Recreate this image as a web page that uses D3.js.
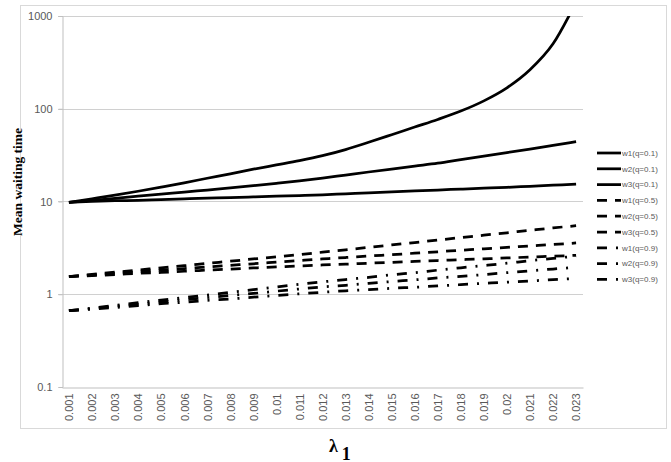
<!DOCTYPE html>
<html>
<head>
<meta charset="utf-8">
<script src="https://cdn.jsdelivr.net/npm/d3@7"></script>
<style>
  body { margin: 0; background: #fff; }
  svg { display: block; }
</style>
</head>
<body>
<script>
/*
*    waiting time chart
*/

var width = 671;
var height = 462;
var margin = {top: 16, right: 88, bottom: 75, left: 62};

// data
var lambdas = ["0.001","0.002","0.003","0.004","0.005","0.006","0.007","0.008","0.009","0.01","0.011","0.012",
    "0.013","0.014","0.015","0.016","0.017","0.018","0.019","0.02","0.021","0.022","0.023"];

var w1q01 = [9.8, 10.7, 11.7, 12.9, 14.3, 15.9, 17.8, 19.9, 22.3, 24.8, 27.6, 31.2, 36.3, 43.5, 52.5, 63.5, 76.7, 94.4, 121.6, 168, 263, 501, 1413];
var w2q01 = [9.8, 10.3, 10.8, 11.4, 12.0, 12.6, 13.3, 14.0, 14.8, 15.7, 16.7, 17.9, 19.3, 20.8, 22.4, 24.1, 25.9, 28.3, 30.9, 33.7, 36.8, 40.3, 44.2];
var w3q01 = [9.8, 10.0, 10.2, 10.3, 10.5, 10.7, 10.9, 11.0, 11.2, 11.4, 11.6, 11.8, 12.1, 12.4, 12.7, 13.0, 13.3, 13.6, 13.9, 14.2, 14.6, 15.0, 15.4];
var w1q05 = [1.55, 1.64, 1.73, 1.82, 1.93, 2.03, 2.15, 2.27, 2.40, 2.53, 2.67, 2.84, 3.01, 3.20, 3.40, 3.61, 3.84, 4.08, 4.33, 4.60, 4.89, 5.19, 5.48];
var w2q05 = [1.55, 1.61, 1.68, 1.75, 1.82, 1.89, 1.97, 2.05, 2.13, 2.22, 2.31, 2.40, 2.49, 2.58, 2.67, 2.77, 2.87, 2.98, 3.09, 3.20, 3.32, 3.44, 3.57];
var w3q05 = [1.55, 1.59, 1.63, 1.68, 1.72, 1.77, 1.82, 1.87, 1.92, 1.97, 2.02, 2.07, 2.11, 2.16, 2.21, 2.26, 2.31, 2.36, 2.41, 2.46, 2.52, 2.57, 2.63];
var w1q09 = [0.665, 0.71, 0.76, 0.81, 0.865, 0.92, 0.98, 1.05, 1.12, 1.20, 1.28, 1.36, 1.44, 1.52, 1.62, 1.71, 1.82, 1.93, 2.04, 2.16, 2.30, 2.43, 2.58];
var w2q09 = [0.665, 0.70, 0.74, 0.78, 0.826, 0.87, 0.92, 0.97, 1.02, 1.08, 1.14, 1.20, 1.25, 1.31, 1.37, 1.43, 1.50, 1.56, 1.63, 1.71, 1.79, 1.87, 1.95];
var w3q09 = [0.665, 0.69, 0.72, 0.755, 0.79, 0.82, 0.86, 0.89, 0.93, 0.97, 1.01, 1.05, 1.09, 1.12, 1.16, 1.19, 1.23, 1.27, 1.31, 1.35, 1.39, 1.44, 1.48];

var seriesNames = ["w1(q=0.1)","w2(q=0.1)","w3(q=0.1)","w1(q=0.5)","w2(q=0.5)","w3(q=0.5)","w1(q=0.9)","w2(q=0.9)","w3(q=0.9)"];
var seriesValues = [w1q01, w2q01, w3q01, w1q05, w2q05, w3q05, w1q09, w2q09, w3q09];
var yTicks = [0.1, 1, 10, 100, 1000];

var dashes = {"0.1": null, "0.5": "10,8", "0.9": "10,9,2,9"};
var series = seriesNames.map((n, i) => ({name: n, values: seriesValues[i], dash: dashes[n.slice(5, 8)]}));

var innerWidth = width - margin.left - margin.right;
var innerHeight = 387 - margin.top;

//Scales
var x = d3.scalePoint()
    .domain(lambdas)
    .range([0, innerWidth])
    .padding(0.3);

var y = d3.scaleLog()
    .domain([0.1, 1000])
    .range([innerHeight, 0]);

//Canvas
var svg = d3.select("body")
    .append("svg")
        .attr("width", width)
        .attr("height", height);

svg.append("rect")
    .attr("x", 20.5)
    .attr("y", 5.5)
    .attr("width", 646)
    .attr("height", 423)
    .attr("fill", "#fff")
    .attr("stroke", "#d9d9d9");

var g = svg.append("g")
    .attr("transform", "translate(" + margin.left + ", " + margin.top + ")");

g.append("clipPath")
    .attr("id", "plot-clip")
  .append("rect")
    .attr("x", 0)
    .attr("y", 0)
    .attr("width", innerWidth)
    .attr("height", innerHeight);

//Grid
g.selectAll(".grid")
    .data(yTicks.slice(1))
    .enter()
    .append("line")
        .attr("class", "grid")
        .attr("x1", -4)
        .attr("x2", innerWidth)
        .attr("y1", d => Math.round(y(d)) + 0.5)
        .attr("y2", d => Math.round(y(d)) + 0.5)
        .attr("stroke", "#d0d0d0");

//Axes
var leftAxis = d3.axisLeft(y)
    .tickValues(yTicks)
    .tickFormat(d => d)
    .tickSize(4)
    .tickPadding(6);
var ya = g.append("g")
    .attr("class", "y-axis")
    .attr("transform", "translate(0.5, 0)")
    .call(leftAxis);
ya.select(".domain").attr("stroke", "#bfbfbf");
ya.selectAll(".tick line").attr("stroke", "#bfbfbf");
ya.selectAll("text")
    .attr("fill", "#595959")
    .style("font", "11px 'Liberation Sans', Arial, sans-serif");

var bottomAxis = d3.axisBottom(x).tickSize(0).tickPadding(0);
var xa = g.append("g")
    .attr("class", "x-axis")
    .attr("transform", "translate(0, " + (innerHeight + 0.5) + ")")
    .call(bottomAxis);
xa.select(".domain").attr("stroke", "#bfbfbf");
xa.selectAll("text")
    .attr("fill", "#595959")
    .style("font", "11px 'Liberation Sans', Arial, sans-serif")
    .attr("transform", "rotate(-90)")
    .attr("text-anchor", "end")
    .attr("x", -6)
    .attr("y", 0)
    .attr("dy", "0.35em");

//Lines
var line = d3.line()
    .x((d, i) => x(lambdas[i]))
    .y(d => y(d))
    .curve(d3.curveMonotoneX);

g.append("g")
    .attr("clip-path", "url(#plot-clip)")
    .selectAll("path")
    .data(series)
    .enter()
    .append("path")
        .attr("d", d => line(d.values))
        .attr("fill", "none")
        .attr("stroke", "#000")
        .attr("stroke-width", 2.75)
        .attr("stroke-dasharray", d => d.dash);

//Legend
var legend = svg.append("g")
    .attr("transform", "translate(597, 153)");
var rows = legend.selectAll("g")
    .data(series)
    .enter()
    .append("g")
        .attr("transform", (d, i) => "translate(0, " + (i * 15.8) + ")");
rows.append("line")
    .attr("x1", 0)
    .attr("x2", 24)
    .attr("stroke", "#000")
    .attr("stroke-width", 2.75)
    .attr("stroke-dasharray", d => d.dash);
rows.append("text")
    .attr("x", 25)
    .attr("dy", "0.35em")
    .attr("fill", "#595959")
    .style("font", "8px 'Liberation Sans', Arial, sans-serif")
    .text(d => d.name);

//Titles
svg.append("text")
    .attr("transform", "translate(21.5, 182) rotate(-90)")
    .attr("text-anchor", "middle")
    .style("font", "bold 13.5px 'Liberation Serif', 'Times New Roman', serif")
    .attr("fill", "#000")
    .text("Mean waiting time");

var xt = svg.append("text")
    .attr("x", 329)
    .attr("y", 452)
    .style("font", "bold 18px 'Liberation Serif', 'Times New Roman', serif")
    .attr("fill", "#000");
xt.append("tspan").text("λ");
xt.append("tspan").attr("dx", 4).attr("dy", 8).text("1");
</script>
</body>
</html>
